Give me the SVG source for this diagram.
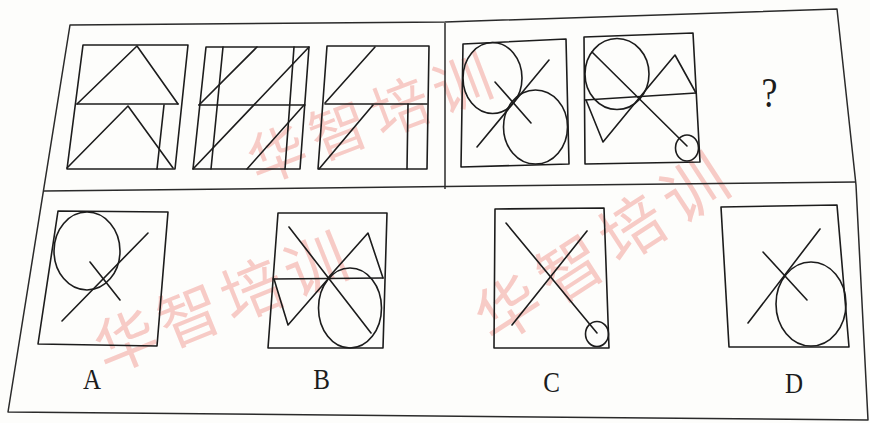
<svg xmlns="http://www.w3.org/2000/svg" width="870" height="423" viewBox="0 0 870 423">
<style>
.ln{fill:none;stroke:#1c1c1c;stroke-width:1.6;stroke-linecap:round;stroke-linejoin:round}
.fr{fill:none;stroke:#2a2a2a;stroke-width:1.5;stroke-linejoin:round}
.wm{font-family:"Noto Sans CJK SC","Noto Sans CJK TC",sans-serif;fill:#f4aaa3;opacity:0.6;text-anchor:middle;dominant-baseline:central}
.lb{font-family:"Liberation Serif","Times New Roman",serif;fill:#1c1c1c;text-anchor:middle}
</style>
<rect width="870" height="423" fill="#fdfdfb"/>
<g id="watermarks">
<text class="wm" font-size="58" letter-spacing="8" transform="translate(372,114) rotate(-21)">华智培训</text>
<text class="wm" font-size="64" letter-spacing="10" transform="translate(603,242) rotate(-33)">华智培训</text>
<text class="wm" font-size="62" letter-spacing="6" transform="translate(222,298) rotate(-22)">华智培训</text>
</g>
<g id="frame">
<polygon class="fr" points="70,25 445,22 837,9 856,185 868,420 8,412"/>
<line class="fr" x1="44" y1="191" x2="856" y2="182"/>
<line class="fr" x1="445" y1="23" x2="445" y2="189"/>
</g>
<g id="fig1">
<polygon class="ln" points="83,45 188,45 175,169 67,169"/>
<line class="ln" x1="77" y1="104" x2="178" y2="104"/>
<polyline class="ln" points="77,104 137,46 178,104"/>
<polyline class="ln" points="67,168 128,106 173,168"/>
<line class="ln" x1="164" y1="105" x2="157" y2="169"/>
</g>
<g id="fig2">
<polygon class="ln" points="206,47 309,47 300,169 193,169"/>
<line class="ln" x1="199" y1="105" x2="305" y2="105"/>
<line class="ln" x1="223" y1="47" x2="211" y2="169"/>
<line class="ln" x1="294" y1="47" x2="285" y2="169"/>
<line class="ln" x1="257" y1="47" x2="199" y2="105"/>
<line class="ln" x1="309" y1="47" x2="193" y2="169"/>
<line class="ln" x1="304" y1="105" x2="247" y2="169"/>
</g>
<g id="fig3">
<polygon class="ln" points="327,46 429,46 427,169 318,169"/>
<line class="ln" x1="325" y1="104" x2="427" y2="104"/>
<line class="ln" x1="375" y1="47" x2="325" y2="103"/>
<line class="ln" x1="373" y1="105" x2="319" y2="169"/>
<line class="ln" x1="408" y1="104" x2="407" y2="169"/>
</g>
<g id="fig4">
<polygon class="ln" points="463,44 566,39 569,164 461,167"/>
<ellipse class="ln" cx="492.5" cy="78" rx="29.5" ry="35.5"/>
<ellipse class="ln" cx="535.5" cy="127" rx="32" ry="37"/>
<line class="ln" x1="477" y1="147" x2="549" y2="60"/>
<line class="ln" x1="495" y1="82" x2="531" y2="123"/>
</g>
<g id="fig5">
<polygon class="ln" points="584,37 693,33 700,162 585,164"/>
<ellipse class="ln" cx="617" cy="74" rx="32" ry="35.5"/>
<line class="ln" x1="585" y1="100" x2="696" y2="93"/>
<polyline class="ln" points="640,97 675,55 696,93"/>
<polyline class="ln" points="586,100 603,142 640,97"/>
<line class="ln" x1="592" y1="52" x2="687" y2="146"/>
<ellipse class="ln" cx="687" cy="148" rx="11.5" ry="13"/>
</g>
<g id="question">
<text class="lb" font-size="36" transform="translate(769.5,107) scale(1,1.2)">?</text>
</g>
<g id="optA">
<polygon class="ln" points="58,211 168,212 157,346 38,344"/>
<ellipse class="ln" cx="87" cy="251" rx="33" ry="39"/>
<line class="ln" x1="62" y1="321" x2="148" y2="233"/>
<line class="ln" x1="90" y1="262" x2="120" y2="300"/>
<text class="lb" font-size="25" transform="translate(92,389) scale(1,1.2)">A</text>
</g>
<g id="optB">
<polygon class="ln" points="278,213 387,213 383,348 268,348"/>
<line class="ln" x1="273" y1="279" x2="383" y2="278"/>
<line class="ln" x1="289" y1="227" x2="371" y2="333"/>
<polyline class="ln" points="328,278 368,233 383,278"/>
<polyline class="ln" points="274,279 288,325 328,279"/>
<ellipse class="ln" cx="350" cy="308" rx="31.5" ry="40"/>
<text class="lb" font-size="25" transform="translate(321.5,389) scale(1,1.2)">B</text>
</g>
<g id="optC">
<polygon class="ln" points="495,209 604,208 609,348 494,348"/>
<line class="ln" x1="506" y1="223" x2="597" y2="333"/>
<line class="ln" x1="512" y1="325" x2="587" y2="231"/>
<ellipse class="ln" cx="597" cy="334" rx="11.5" ry="12.5"/>
<text class="lb" font-size="25" transform="translate(551.5,392) scale(1,1.2)">C</text>
</g>
<g id="optD">
<polygon class="ln" points="721,207 837,205 849,347 729,347"/>
<line class="ln" x1="748" y1="323" x2="820" y2="229"/>
<line class="ln" x1="763" y1="252" x2="807" y2="300"/>
<ellipse class="ln" cx="811" cy="304" rx="35" ry="42"/>
<text class="lb" font-size="25" transform="translate(794,393) scale(1,1.2)">D</text>
</g>
</svg>
